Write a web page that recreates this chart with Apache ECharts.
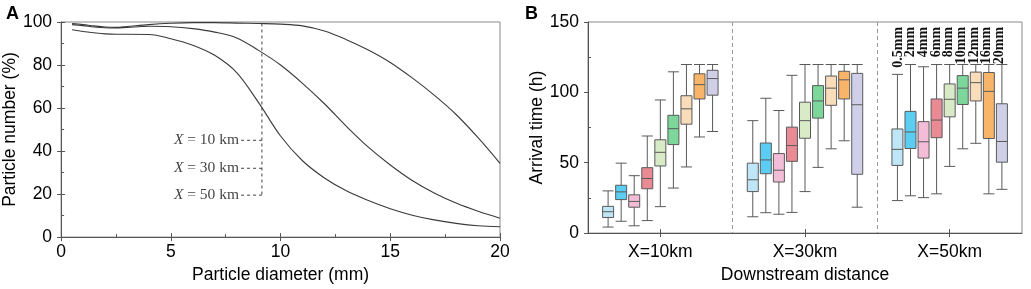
<!DOCTYPE html>
<html>
<head>
<meta charset="utf-8">
<script src="https://cdn.jsdelivr.net/npm/echarts@6/dist/echarts.min.js"></script>
<style>
  html, body { margin: 0; padding: 0; background: #fff; }
  #main { width: 1031px; height: 289px; }
</style>
</head>
<body>
<div id="main"></div>
<script>
// panel A: share of particles still moving vs diameter
var diameters = [0.5, 1, 1.5, 2, 2.5, 3, 4, 5, 6, 7, 8, 9, 10, 11, 12, 13, 14, 15, 16, 17, 18, 19, 20];
var pct10 = [99.3, 98.8, 98.2, 97.7, 97.5, 97.9, 98.8, 99.4, 99.7, 99.7, 99.5, 99.3, 99.0, 98.2, 95.8, 91.8, 87.0, 81.2, 74.0, 66.0, 57.0, 46.2, 34.3];
var pct30 = [98.8, 98.3, 97.7, 97.3, 97.2, 97.5, 98.0, 97.8, 96.9, 95.3, 92.6, 86.8, 80.0, 71.5, 62.0, 51.5, 41.8, 33.5, 26.3, 20.5, 15.8, 12.0, 8.8];
var pct50 = [96.4, 95.6, 95.0, 94.5, 94.3, 94.3, 94.2, 92.2, 89.2, 84.5, 76.5, 62.5, 47.0, 35.5, 27.5, 21.5, 17.0, 13.2, 10.2, 8.0, 6.4, 5.3, 4.8];
var cutX = 9.15;
var labelX = 8.2;
var labelY = [45, 32, 19.5];
var labelText = ['10', '30', '50'];

// panel B: arrival time boxes [min, Q1, median, Q3, max] at X=10, 30, 50 km
var distances = ['X=10km', 'X=30km', 'X=50km'];
var sizes = ['0.5mm', '2mm', '4mm', '6mm', '8mm', '10mm', '12mm', '16mm', '20mm'];
var t05 = [[4.3, 11.1, 15.2, 19.0, 30.0], [11.6, 29.5, 37.9, 49.7, 79.9], [23.1, 48.1, 59.5, 74.0, 112.8]];
var t2  = [[8.4, 23.8, 29.3, 34.0, 49.7], [14.5, 42.2, 52.0, 64.0, 95.8], [26.5, 60.1, 71.9, 86.5, 119.8]];
var t4  = [[5.2, 18.4, 22.5, 27.2, 40.8], [13.4, 36.3, 44.7, 56.5, 87.1], [25.2, 53.3, 64.9, 79.2, 118.2]];
var t6  = [[8.9, 31.5, 38.8, 46.5, 69.0], [14.7, 51.0, 62.2, 75.3, 112.1], [27.9, 67.8, 80.3, 95.3, 119.8]];
var t8  = [[18.8, 47.7, 57.4, 66.3, 94.6], [29.5, 67.4, 79.9, 93.0, 119.8], [47.4, 82.6, 95.1, 106.0, 119.8]];
var t10 = [[32.0, 62.9, 74.2, 83.7, 114.6], [46.7, 81.7, 93.9, 104.8, 119.8], [59.9, 91.4, 103.0, 111.9, 119.8]];
var t12 = [[47.0, 77.4, 88.3, 97.6, 119.8], [59.9, 90.8, 103.0, 111.6, 119.8], [63.8, 93.9, 106.9, 114.4, 119.8]];
var t16 = [[68.3, 95.3, 105.5, 113.2, 119.8], [65.6, 95.3, 108.9, 115.0, 119.8], [27.9, 67.2, 100.7, 114.1, 119.8]];
var t20 = [[72.2, 98.0, 109.8, 115.7, 119.8], [18.4, 41.8, 91.2, 113.5, 119.8], [31.1, 50.4, 65.1, 91.9, 119.8]];
var boxSets = [t05, t2, t4, t6, t8, t10, t12, t16, t20];
var boxColors = ['#bfe6f6', '#5ccdf2', '#f3bdd8', '#ea8a95', '#d9ebc6', '#7dd69a', '#f9dcb9', '#f8b569', '#cfd0e8'];
var sizeLabelY = 146.5;

var sans = 'Liberation Sans, Arial, sans-serif';
var serif = 'Liberation Serif, Times New Roman, serif';
var axisGrey = '#555';

function pairs(ys) {
    return diameters.map(function (d, i) { return [d, ys[i]]; });
}

var series = [];
[pct10, pct30, pct50].forEach(function (ys) {
    series.push({
        type: 'line', xAxisIndex: 0, yAxisIndex: 0,
        data: pairs(ys), smooth: 0.35, symbol: 'none',
        lineStyle: { color: '#3a3a3a', width: 1.1 }, silent: true, z: 3
    });
});
// dashed guide at the cut diameter and its stubs
series.push({
    type: 'line', xAxisIndex: 0, yAxisIndex: 0, symbol: 'none', silent: true,
    data: [[cutX, pct10[11]], [cutX, labelY[2]]],
    lineStyle: { color: '#444', width: 1, type: [3, 3] }
});
labelY.forEach(function (y) {
    series.push({
        type: 'line', xAxisIndex: 0, yAxisIndex: 0, symbol: 'none', silent: true,
        data: [[labelX, y], [cutX, y]],
        lineStyle: { color: '#444', width: 1, type: [3, 3] }
    });
});
series.push({
    type: 'scatter', xAxisIndex: 0, yAxisIndex: 0, symbolSize: 0, silent: true,
    data: labelY.map(function (y, i) { return { value: [labelX, y], name: labelText[i] }; }),
    label: {
        show: true, position: 'left', distance: 2,
        formatter: function (p) { return '{i|X} = ' + p.name + ' km'; },
        color: '#111', fontFamily: serif, fontSize: 15.5,
        rich: { i: { fontStyle: 'italic', fontFamily: serif, fontSize: 15.5, color: '#111' } }
    }
});

boxSets.forEach(function (set, i) {
    series.push({
        type: 'boxplot', name: sizes[i], xAxisIndex: 1, yAxisIndex: 1,
        data: set, boxWidth: [11, 11], silent: true,
        itemStyle: { color: boxColors[i], borderColor: '#5a5a5a', borderWidth: 1 },
        emphasis: { disabled: true }
    });
});

// size labels above the X=50km group, aligned with the boxplot offsets
series.push({
    type: 'custom', xAxisIndex: 1, yAxisIndex: 1, silent: true,
    data: sizes.map(function (s, i) { return [2, sizeLabelY, i]; }),
    renderItem: function (params, api) {
        var c = api.coord([api.value(0), api.value(1)]);
        var band = api.size([1, 0])[0];
        var avail = band * 0.8 - 2;
        var step = avail / sizes.length;
        var x = c[0] + 0.35 * step - avail / 2 + api.value(2) * step;
        return {
            type: 'text', x: x + 1, y: c[1], rotation: Math.PI / 2,
            style: {
                text: sizes[api.value(2)], fill: '#111',
                font: 'bold 14px ' + serif,
                textAlign: 'right', textVerticalAlign: 'middle'
            }
        };
    }
});

var chart = echarts.init(document.getElementById('main'), null, { renderer: 'canvas' });
chart.setOption({
    animation: false,
    backgroundColor: '#fff',
    title: [
        { text: 'A', left: 1, top: 0, textStyle: { fontFamily: sans, fontWeight: 'bold', fontSize: 18, color: '#000' } },
        { text: 'B', left: 520, top: 0, textStyle: { fontFamily: sans, fontWeight: 'bold', fontSize: 18, color: '#000' } }
    ],
    grid: [
        { left: 59, top: 22, width: 441, height: 220, show: true, borderColor: '#888', borderWidth: 1, backgroundColor: 'transparent' },
        { left: 588, top: 22, width: 434, height: 220, show: true, borderColor: '#888', borderWidth: 1, backgroundColor: 'transparent' }
    ],
    xAxis: [
        {
            gridIndex: 0, type: 'value', min: 0, max: 20, interval: 5, position: 'bottom',
            name: 'Particle diameter (mm)', nameLocation: 'middle', nameGap: 26,
            nameTextStyle: { fontFamily: sans, fontSize: 17.5, color: '#000' },
            axisLine: { lineStyle: { color: axisGrey } },
            axisTick: { show: true, length: 4, lineStyle: { color: axisGrey } },
            axisLabel: { fontFamily: sans, fontSize: 17.5, color: '#000', margin: 6 },
            splitLine: { show: false }
        },
        {
            gridIndex: 1, type: 'category', data: distances, position: 'bottom',
            name: 'Downstream distance', nameLocation: 'middle', nameGap: 31,
            nameTextStyle: { fontFamily: sans, fontSize: 17.5, color: '#000' },
            axisLine: { lineStyle: { color: axisGrey } },
            axisTick: { show: true, alignWithLabel: true, length: 4, lineStyle: { color: axisGrey } },
            axisLabel: { fontFamily: sans, fontSize: 17.5, color: '#000', margin: 10 },
            splitLine: { show: true, showMinLine: false, showMaxLine: false, lineStyle: { color: '#999', type: [4, 3] } }
        },
        // inward tick copies
        {
            gridIndex: 0, type: 'value', min: 0, max: 20, interval: 5, position: 'bottom',
            axisLine: { show: false }, axisLabel: { show: false }, splitLine: { show: false },
            axisTick: { show: true, inside: true, length: 4, lineStyle: { color: axisGrey } },
            minorTick: { show: true, splitNumber: 2, length: 3, lineStyle: { color: axisGrey } }
        },
        {
            gridIndex: 1, type: 'category', data: distances, position: 'bottom',
            axisLine: { show: false }, axisLabel: { show: false }, splitLine: { show: false },
            axisTick: { show: true, inside: true, alignWithLabel: true, length: 4, lineStyle: { color: axisGrey } }
        }
    ],
    yAxis: [
        {
            gridIndex: 0, type: 'value', min: 0, max: 100, interval: 20, position: 'left',
            name: 'Particle number (%)', nameLocation: 'middle', nameGap: 35,
            nameTextStyle: { fontFamily: sans, fontSize: 17.5, color: '#000' },
            axisLine: { show: true, lineStyle: { color: axisGrey } },
            axisTick: { show: true, length: 4, lineStyle: { color: axisGrey } },
            axisLabel: { fontFamily: sans, fontSize: 17.5, color: '#000', margin: 9 },
            splitLine: { show: false }
        },
        {
            gridIndex: 1, type: 'value', min: 0, max: 150, interval: 50, position: 'left',
            name: 'Arrival time (h)', nameLocation: 'middle', nameGap: 41,
            nameTextStyle: { fontFamily: sans, fontSize: 17.5, color: '#000' },
            axisLine: { show: true, lineStyle: { color: axisGrey } },
            axisTick: { show: true, length: 4, lineStyle: { color: axisGrey } },
            axisLabel: { fontFamily: sans, fontSize: 17.5, color: '#000', margin: 9 },
            splitLine: { show: false }
        },
        {
            gridIndex: 0, type: 'value', min: 0, max: 100, interval: 20, position: 'left',
            axisLine: { show: false }, axisLabel: { show: false }, splitLine: { show: false },
            axisTick: { show: true, inside: true, length: 4, lineStyle: { color: axisGrey } },
            minorTick: { show: true, splitNumber: 2, length: 3, lineStyle: { color: axisGrey } }
        },
        {
            gridIndex: 1, type: 'value', min: 0, max: 150, interval: 50, position: 'left',
            axisLine: { show: false }, axisLabel: { show: false }, splitLine: { show: false },
            axisTick: { show: false, inside: true },
            minorTick: { show: true, splitNumber: 2, length: 3, lineStyle: { color: axisGrey } }
        }
    ],
    series: series
});
</script>
</body>
</html>
